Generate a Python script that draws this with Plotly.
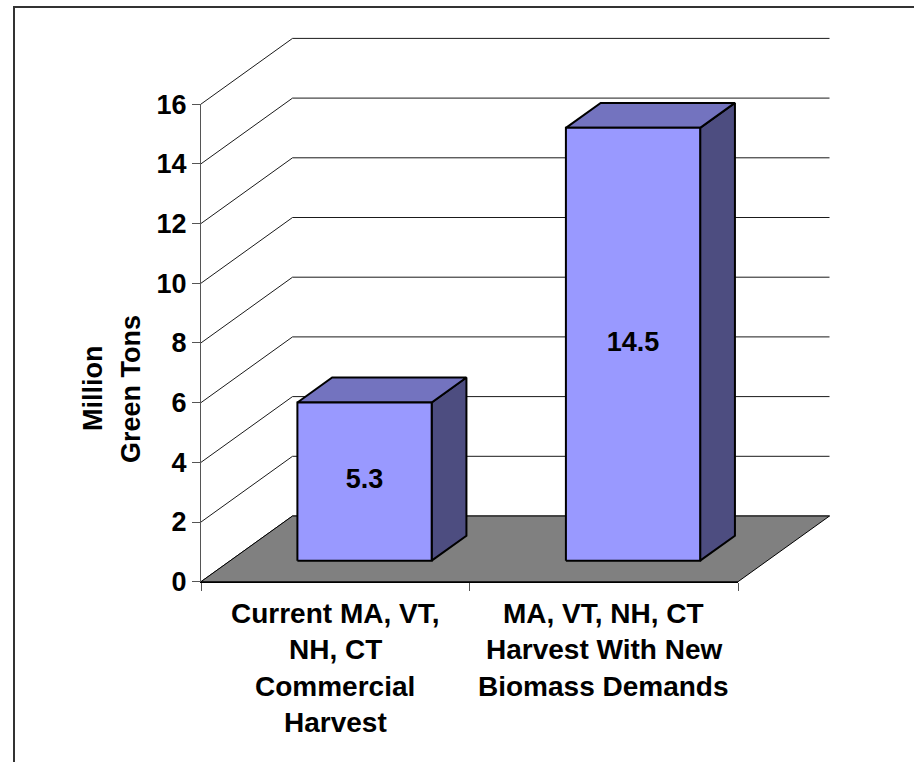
import plotly.graph_objects as go

# ---- chart data -------------------------------------------------------------
category_lines = [
    ["Current MA, VT,", "NH, CT", "Commercial", "Harvest"],
    ["MA, VT, NH, CT", "Harvest With New", "Biomass Demands"],
]
values = [5.3, 14.5]
y_ticks = [0, 2, 4, 6, 8, 10, 12, 14, 16]
y_title_lines = ["Million", "Green Tons"]

# ---- canvas and oblique projection (pixels) ---------------------------------
W, H = 914, 762
X0, Y0 = 201.0, 581.7          # front-left corner of the floor
UX, UY = 268.5, 29.85          # pixels per category / per unit of value
DEPTH_DX, DEPTH_DY = 91.5, 65.7  # shift of the full chart depth
N_CAT = len(values)
Y_MAX = y_ticks[-1]

DU = DEPTH_DX / UX             # depth shift in category units
DV = DEPTH_DY / UY             # depth shift in value units

BAR_HALF = 0.25                # half bar width, in category units
D_FRONT, D_BACK = 0.32, 0.70   # bar position along the depth

FONT = "Liberation Sans, Arial, sans-serif"
FRONT_C, TOP_C, SIDE_C = "#9999FF", "#7373BF", "#4D4D80"


def proj(u, v, d):
    """Project (category, value, depth) onto the flat drawing axes."""
    return u + d * DU, v + d * DV


def poly(points):
    xs, ys = zip(*[proj(*p) for p in points])
    return list(xs) + [xs[0]], list(ys) + [ys[0]]


fig = go.Figure()

# side-wall diagonals and back-wall gridlines
gx, gy = [], []
for t in y_ticks:
    for p in [(0, t, 0), (0, t, 1), (N_CAT, t, 1)]:
        x, y = proj(*p)
        gx.append(x)
        gy.append(y)
    gx.append(None)
    gy.append(None)
fig.add_trace(go.Scatter(x=gx, y=gy, mode="lines",
                         line=dict(color="#1a1a1a", width=1),
                         hoverinfo="skip", showlegend=False))

# floor
fx, fy = poly([(0, 0, 0), (N_CAT, 0, 0), (N_CAT, 0, 1), (0, 0, 1)])
fig.add_trace(go.Scatter(x=fx, y=fy, mode="lines", fill="toself",
                         fillcolor="#808080",
                         line=dict(color="#000000", width=1),
                         hoverinfo="skip", showlegend=False))

# 3-D bars: side, top, then front face
for i, val in enumerate(values):
    u0, u1 = i + 0.5 - BAR_HALF, i + 0.5 + BAR_HALF
    faces = [
        ([(u1, 0, D_FRONT), (u1, 0, D_BACK), (u1, val, D_BACK), (u1, val, D_FRONT)], SIDE_C),
        ([(u0, val, D_FRONT), (u1, val, D_FRONT), (u1, val, D_BACK), (u0, val, D_BACK)], TOP_C),
        ([(u0, 0, D_FRONT), (u1, 0, D_FRONT), (u1, val, D_FRONT), (u0, val, D_FRONT)], FRONT_C),
    ]
    for pts, col in faces:
        px, py = poly(pts)
        fig.add_trace(go.Scatter(x=px, y=py, mode="lines", fill="toself",
                                 fillcolor=col,
                                 line=dict(color="#000000", width=2),
                                 hoverinfo="skip", showlegend=False))

# value labels in the middle of each front face
lx, ly = zip(*[proj(i + 0.5, v / 2, D_FRONT) for i, v in enumerate(values)])
fig.add_trace(go.Scatter(x=list(lx), y=list(ly), mode="text",
                         text=[f"{v:g}" for v in values],
                         textposition="middle center",
                         textfont=dict(family=FONT, size=27, color="#000000", weight="bold"),
                         hoverinfo="skip", showlegend=False))

# placeholder so the front-plane axes are rendered
fig.add_trace(go.Scatter(x=[None], y=[None], xaxis="x2", yaxis="y2",
                         mode="markers", showlegend=False, hoverinfo="skip"))

# category labels, one line at a time
annotations = []
LINE0, LINE_STEP = 613.0, 36.5
for i, lines in enumerate(category_lines):
    for k, line in enumerate(lines):
        annotations.append(dict(
            x=i + 0.5, xref="x", y=1 - (LINE0 + k * LINE_STEP) / H, yref="paper",
            text=line, showarrow=False, xanchor="center", yanchor="middle",
            font=dict(family=FONT, size=28, color="#000000", weight="bold")))

# rotated axis title
for xpix, line in zip([93, 131], y_title_lines):
    annotations.append(dict(
        x=xpix / W, xref="paper", y=1 - 389 / H, yref="paper",
        text=line, textangle=-90, showarrow=False,
        xanchor="center", yanchor="middle",
        font=dict(family=FONT, size=27, color="#000000", weight="bold")))

fig.update_layout(
    width=W, height=H,
    autosize=False,
    margin=dict(l=0, r=0, t=0, b=0, pad=0, autoexpand=False),
    paper_bgcolor="#FFFFFF",
    plot_bgcolor="rgba(0,0,0,0)",
    showlegend=False,
    xaxis=dict(domain=[0, 1], range=[-X0 / UX, (W - X0) / UX], visible=False,
               fixedrange=True, anchor="y", automargin=False),
    yaxis=dict(domain=[0, 1], range=[-(H - Y0) / UY, Y0 / UY], visible=False,
               fixedrange=True, anchor="x", automargin=False),
    xaxis2=dict(domain=[X0 / W, (X0 + N_CAT * UX) / W], range=[0, N_CAT],
                anchor="y2", showline=True, linecolor="#000000", linewidth=1,
                ticks="outside", tickvals=list(range(N_CAT + 1)), ticklen=8,
                tickcolor="#555555", showticklabels=False, showgrid=False,
                zeroline=False, fixedrange=True, automargin=False),
    yaxis2=dict(domain=[(H - Y0) / H, (H - (Y0 - Y_MAX * UY)) / H],
                range=[0, Y_MAX], anchor="x2", showline=True,
                linecolor="#555555", linewidth=1, ticks="outside",
                tickvals=y_ticks, ticklen=8, tickcolor="#555555",
                tickfont=dict(family=FONT, size=27, color="#000000", weight="bold"),
                showgrid=False, zeroline=False, fixedrange=True, automargin=False),
    annotations=annotations,
    shapes=[dict(type="rect", xref="paper", yref="paper",
                 x0=14 / W, x1=1.05, y0=-0.05, y1=1 - 7 / H,
                 line=dict(color="#333333", width=2), fillcolor="rgba(0,0,0,0)")],
)

fig.write_html("out.html")
